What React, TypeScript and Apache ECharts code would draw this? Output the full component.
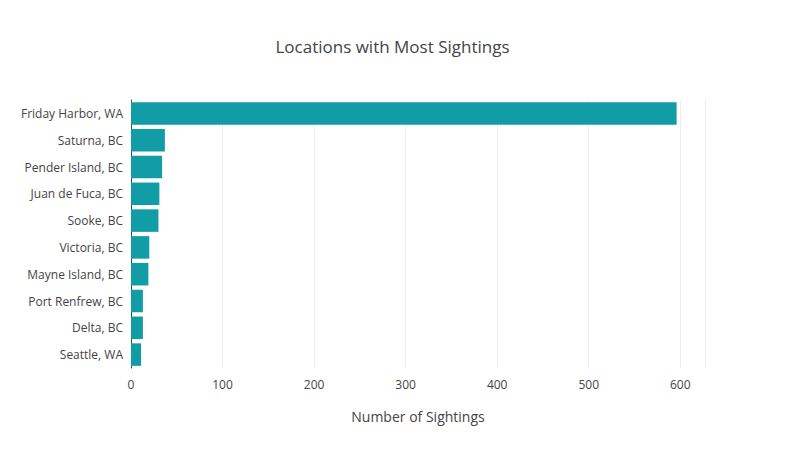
import * as echarts from "echarts";
import { useEffect, useRef } from "react";

const locations = [
  "Friday Harbor, WA",
  "Saturna, BC",
  "Pender Island, BC",
  "Juan de Fuca, BC",
  "Sooke, BC",
  "Victoria, BC",
  "Mayne Island, BC",
  "Port Renfrew, BC",
  "Delta, BC",
  "Seattle, WA",
];
const sightings = [596, 37, 34, 31, 30, 20, 19, 13, 13, 11];

const font = "'Open Sans', sans-serif";

export default function App() {
  const ref = useRef<HTMLDivElement | null>(null);

  useEffect(() => {
    if (!ref.current) return;
    const chart = echarts.init(ref.current, undefined, { renderer: "svg" });
    chart.setOption({
      animation: false,
      textStyle: { fontFamily: font },
      title: {
        text: "Locations with Most Sightings",
        left: "center",
        top: 33,
        textStyle: { fontFamily: font, fontSize: 17, fontWeight: "normal", color: "#444" },
      },
      grid: { left: 131, right: 80, top: 100, bottom: 82 },
      xAxis: {
        type: "value",
        min: 0,
        max: 627,
        interval: 100,
        name: "Number of Sightings",
        nameLocation: "middle",
        nameGap: 41,
        nameTextStyle: { fontFamily: font, fontSize: 14, color: "#444" },
        axisLabel: { color: "#444", fontSize: 12, showMaxLabel: false, margin: 10 },
        splitLine: { lineStyle: { color: "#eee" } },
        axisLine: { show: false },
        axisTick: { show: false },
      },
      yAxis: {
        type: "category",
        inverse: true,
        data: locations,
        axisLabel: { color: "#444", fontSize: 12, margin: 8 },
        axisLine: { lineStyle: { color: "#444" } },
        axisTick: { length: 5, alignWithLabel: true, lineStyle: { color: "#444" } },
      },
      series: [
        {
          type: "bar",
          data: sightings,
          barCategoryGap: "16%",
          itemStyle: { color: "#129ca6" },
        },
      ],
    });
    return () => chart.dispose();
  }, []);

  return <div ref={ref} style={{ width: 785, height: 450, margin: -8 }} />;
}
